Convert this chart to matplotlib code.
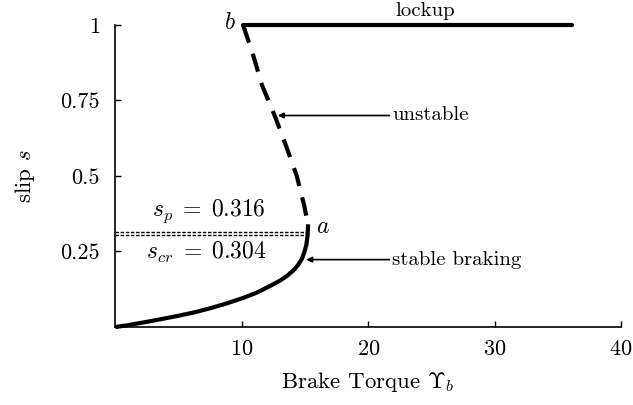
import numpy as np
import matplotlib
matplotlib.use("Agg")
import matplotlib.pyplot as plt

plt.rcParams['font.family'] = 'serif'
plt.rcParams['font.serif'] = ['cmr10', 'DejaVu Serif']
plt.rcParams['mathtext.fontset'] = 'cm'
plt.rcParams['axes.unicode_minus'] = False
plt.rcParams['axes.formatter.use_mathtext'] = True

# stable branch (torque, slip)
stable_torque = [0.0, 1.0, 2.2, 3.5, 4.85, 6.2, 7.5, 8.8, 10.1, 11.2, 12.2, 13.0,
                 13.6, 14.1, 14.45, 14.75, 14.95, 15.1, 15.2, 15.25]
stable_slip = [0.0, 0.006, 0.015, 0.025, 0.036, 0.048, 0.062, 0.078, 0.096, 0.114, 0.135, 0.153,
               0.17, 0.188, 0.205, 0.225, 0.248, 0.27, 0.30, 0.34]

# unstable branch, read from b down to a
unstable_torque = [10.1, 10.9, 11.6, 12.6, 13.5, 14.35, 14.95, 15.25]
unstable_slip = [1.0, 0.9, 0.8, 0.7, 0.6, 0.5, 0.4, 0.335]

# lockup branch
lockup_torque = [10.1, 36.1]
lockup_slip = [1.0, 1.0]

s_p = 0.316
s_cr = 0.304

x_ticks = [10, 20, 30, 40]
y_ticks = [0.25, 0.5, 0.75, 1.0]
y_ticklabels = ['0.25', '0.5', '0.75', '1']

fig = plt.figure(figsize=(6.33, 4.05), dpi=100)
ax = fig.add_axes([0.1823, 0.1926, 0.7987, 0.746])

ax.plot(stable_torque, stable_slip, color='black', lw=3, clip_on=False,
        solid_capstyle='butt', solid_joinstyle='round')
ax.plot(unstable_torque, unstable_slip, color='black', lw=3, ls=(0, (4.5, 2.8)), clip_on=False)
ax.plot(lockup_torque, lockup_slip, color='black', lw=3, clip_on=False, solid_capstyle='round')

ax.plot([0, 15.2], [s_p, s_p], color='black', lw=1, ls=(0, (2.5, 1.2)))
ax.plot([0, 15.2], [s_cr, s_cr], color='black', lw=1, ls=(0, (2.5, 1.2)))

ax.text(7.4, 0.383, r'$s_p\;=\;0.316$', fontsize=17, ha='center', va='center')
ax.text(7.2, 0.247, r'$s_{cr}\;=\;0.304$', fontsize=17, ha='center', va='center')
ax.text(16.4, 0.33, r'$a$', fontsize=17, ha='center', va='center')
ax.text(9.05, 1.005, r'$b$', fontsize=17, ha='center', va='center')
ax.text(24.5, 1.045, 'lockup', fontsize=15, ha='center', va='center')

arrow = dict(arrowstyle='-|>', color='black', lw=1.2, mutation_scale=8, shrinkA=0, shrinkB=0)
ax.annotate('unstable', xy=(12.85, 0.70), xytext=(21.9, 0.70), fontsize=15,
            va='center', ha='left', arrowprops=arrow)
ax.annotate('stable braking', xy=(15.1, 0.223), xytext=(21.9, 0.223), fontsize=15,
            va='center', ha='left', arrowprops=arrow)

ax.set_xlim(0, 40)
ax.set_ylim(0, 1)
ax.set_xticks(x_ticks)
ax.set_yticks(y_ticks)
ax.set_yticklabels(y_ticklabels)
ax.tick_params(direction='in', length=4, width=1, labelsize=16)
ax.tick_params(axis='y', pad=11)
ax.tick_params(axis='x', pad=9)
for side in ['top', 'right']:
    ax.spines[side].set_visible(False)
for side in ['left', 'bottom']:
    ax.spines[side].set_linewidth(1.2)

ax.set_xlabel(r'Brake Torque $\Upsilon_b$', fontsize=16.5)
ax.set_ylabel(r'slip $s$', fontsize=16.5)
ax.xaxis.set_label_coords(0.5, -0.142)
ax.yaxis.set_label_coords(-0.155, 0.5)

fig.savefig('out.png', dpi=100)
